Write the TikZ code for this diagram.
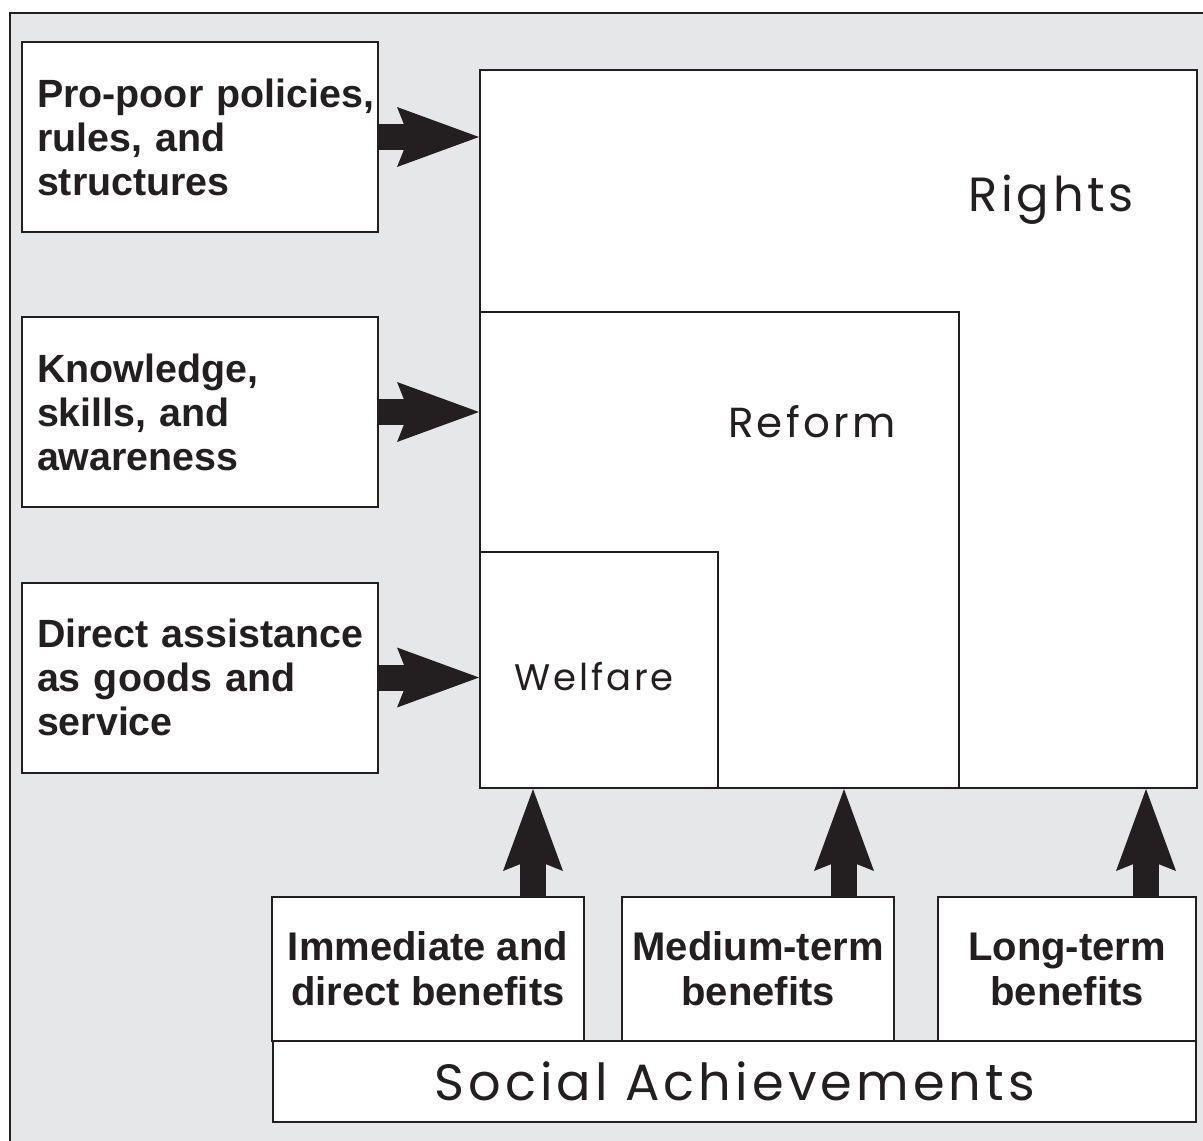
\documentclass[tikz,border=0pt]{standalone}
\usepackage{fontspec}
\setmainfont{Liberation Sans}
\newfontfamily\geofont[LetterSpace=8]{Poppins}
\usepackage{xcolor}
\usetikzlibrary{positioning,arrows.meta,calc}
\definecolor{ink}{RGB}{35,31,32}
\definecolor{panel}{RGB}{230,231,232}

\begin{document}
\begin{tikzpicture}[
  x=0.5pt, y=-0.5pt,
  >=Stealth,
  every node/.style={text=ink},
  leftbox/.style={draw=ink, line width=1pt, fill=white, rectangle,
                  minimum width=178pt, minimum height=95pt,
                  text width=163pt, inner xsep=7.5pt, align=left,
                  font=\bfseries\fontsize{19.7}{22}\selectfont},
  benbox/.style={draw=ink, line width=1pt, fill=white, rectangle,
                 minimum height=72pt, align=center,
                 font=\bfseries\fontsize{20}{22.5}\selectfont},
  ringbox/.style={draw=ink, line width=1pt, fill=white, rectangle, inner sep=0pt},
  ringlabel/.style={font=\geofont},
  bigarrow/.style={draw=ink, line width=13pt,
                   -{Stealth[length=41pt, width=30pt, inset=6pt, line width=0pt]}}
]

% ---- Page and grey panel ----
\useasboundingbox (0,0) rectangle (1203,1140);
\begin{scope}
  \clip (0,0) rectangle (1203,1140);
  \draw[ink, line width=1.3pt, fill=panel] (10,13) rectangle (1260,1200);
\end{scope}

% ---- Nested squares ----
\node[ringbox, minimum width=358.5pt, minimum height=359pt] (rights)  at (838.5,429) {};
\node[ringbox, minimum width=239.5pt, minimum height=238pt] (reform)  at (719.5,550) {};
\node[ringbox, minimum width=119pt,   minimum height=118pt] (welfare) at (599,670)   {};
\node[ringlabel, font=\geofont\fontsize{24}{24}\selectfont] at (1051,200) {Rights};
\node[ringlabel, font=\geofont\fontsize{21}{21}\selectfont] at (812,422)  {Reform};
\node[ringlabel, font=\geofont\fontsize{18.5}{18.5}\selectfont] at (594,677) {Welfare};

% ---- Inputs (left column) ----
\node[leftbox] (policy) at (200,137)   {\mbox{Pro-poor policies,}\\rules, and\\structures};
\node[leftbox] (skills) at (200,412)   {Knowledge,\\skills, and\\awareness};
\node[leftbox] (assist) at (200,677.5) {\mbox{Direct assistance}\\as goods and\\service};

% ---- Benefits (bottom row) ----
\node[benbox, minimum width=156pt] (immed)  at (428,969)  {Immediate and\\direct benefits};
\node[benbox, minimum width=136pt] (medium) at (758,969)  {Medium-term\\benefits};
\node[benbox, minimum width=129pt] (long)   at (1067,969) {Long-term\\benefits};
\node[draw=ink, line width=1pt, fill=white, minimum width=461.5pt, minimum height=40.5pt,
      font=\geofont\fontsize{25.5}{25.5}\selectfont] (social) at (734.5,1081.5) {Social Achievements};

% ---- Arrows: inputs -> squares ----
\draw[bigarrow] (policy.east) -- (policy.east -| rights.west);
\draw[bigarrow] (skills.east) -- (skills.east -| reform.west);
\draw[bigarrow] (assist.east) -- (assist.east -| welfare.west);

% ---- Arrows: benefits -> squares ----
\foreach \b/\dx in {immed/52.5, medium/43, long/39.5}{
  \draw[bigarrow] ([xshift=\dx pt]\b.north) -- ([xshift=\dx pt]\b.north |- rights.south);
}

\end{tikzpicture}
\end{document}
